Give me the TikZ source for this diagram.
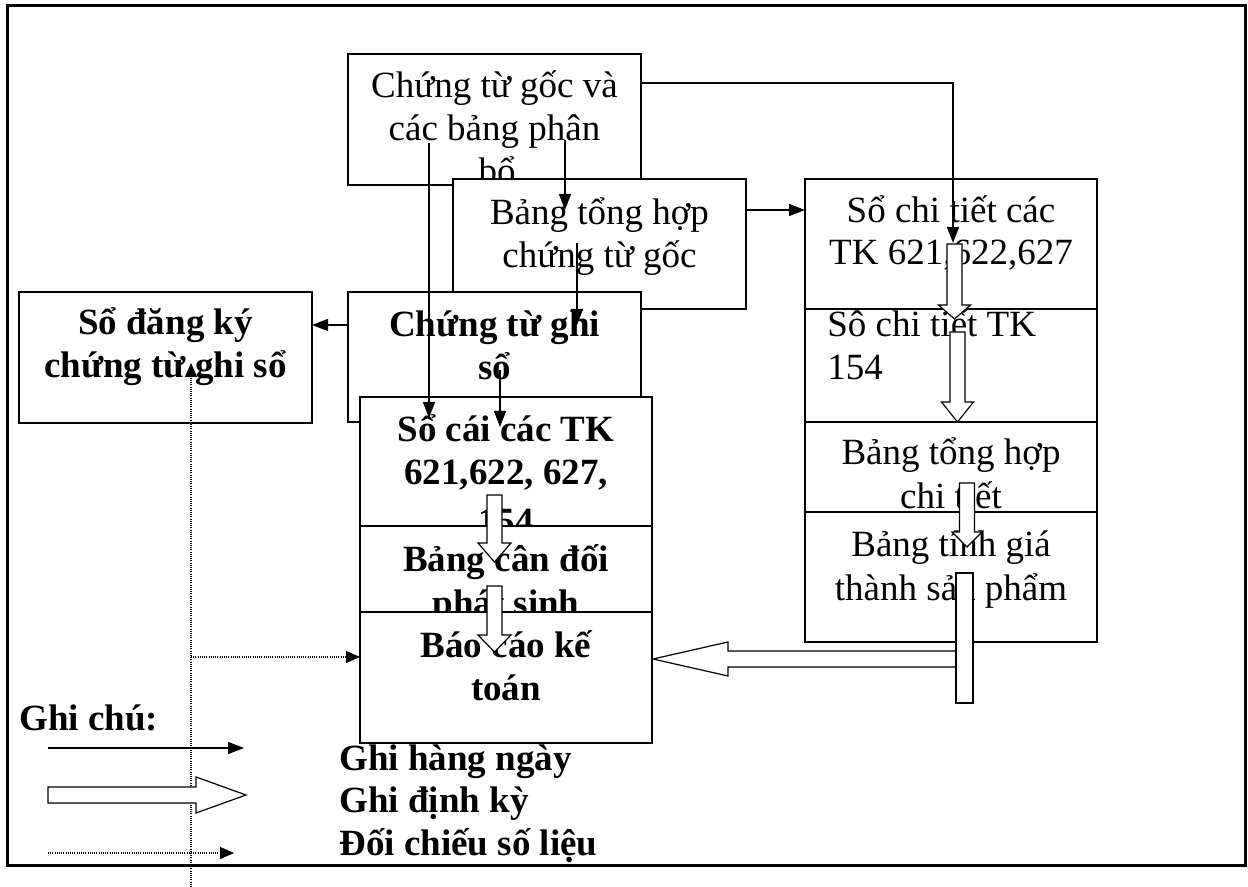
\documentclass[tikz,border=0pt]{standalone}
\usepackage{fontspec}
\setmainfont{Liberation Serif}
\usetikzlibrary{arrows.meta,calc}
\tikzset{
  box/.style={draw, fill=white, line width=0.65pt, inner sep=0pt, outer sep=0pt, anchor=north west},
  txt/.style={font=\fontsize{18.5}{21.5}\selectfont, inner sep=0pt, anchor=base},
  btxt/.style={font=\fontsize{18.5}{21.5}\selectfont\bfseries, inner sep=0pt, anchor=base},
  flow/.style={line width=0.7pt, -{Triangle[length=8pt,width=6pt]}},
  dotflow/.style={line width=0.6pt, dash pattern=on 0.5pt off 0.6pt, -{Triangle[length=7pt,width=6pt]}},
  hollow/.style={draw, fill=white, line width=0.6pt, line join=miter},
}
\newcommand\blockdown[6]{\draw[hollow] (#1-#2,#4) -- (#1+#2,#4) -- (#1+#2,#5) -- (#1+#3,#5) -- (#1,#6) -- (#1-#3,#5) -- (#1-#2,#5) -- cycle;}
\begin{document}
\begin{tikzpicture}[x=0.5pt,y=-0.5pt]
\useasboundingbox (0,0) rectangle (1248,887);
% outer frame
\draw[line width=1.5pt] (7,6) rectangle (1245,865);

% left column boxes
\node[box, minimum width=146.5pt, minimum height=65.5pt] (G) at (19,292) {};
\node[btxt] (g1) at (165.5,335) {Sổ đăng ký};
\node[btxt] (g2) at (165.5,378) {chứng từ ghi sổ};

\node[box, minimum width=146.5pt, minimum height=65.5pt] (A) at (348,54) {};
\node[txt] (a1) at (494.5,98) {Chứng từ gốc và};
\node[txt] (a2) at (494.5,141) {các bảng phân};
\node[txt] (a3) at (497,184) {bổ};

\node[box, minimum width=146.5pt, minimum height=65pt] (B) at (453,179) {};
\node[txt] (b1) at (599.5,225) {Bảng tổng hợp};
\node[txt] (b2) at (599.5,268) {chứng từ gốc};

\node[box, minimum width=146.5pt, minimum height=65pt] (C) at (348,292) {};
\node[btxt] (c1) at (494.5,337) {Chứng từ ghi};
\node[btxt] (c2) at (494.5,380) {sổ};

\node[box, minimum width=146pt, minimum height=64.5pt] (D) at (360,397) {};
\node[btxt] (d1) at (506,442) {Sổ cái các TK};
\node[btxt] (d2) at (506,485) {621,622, 627,};
\node[btxt] (d3) at (506,533) {154};

\node[box, minimum width=146pt, minimum height=43pt] (E) at (360,526) {};
\node[btxt] (e1) at (506,571) {Bảng cân đối};
\node[btxt] (e2) at (506,615) {phát sinh};

\node[box, minimum width=146pt, minimum height=65.5pt] (F) at (360,612) {};
\node[btxt] (f1) at (506,657) {Báo cáo kế};
\node[btxt] (f2) at (506,700) {toán};

% right column boxes
\node[box, minimum width=146pt, minimum height=65pt] (H) at (805,179) {};
\node[txt] (h1) at (951,223) {Sổ chi tiết các};
\node[txt] (h2) at (951,265) {TK 621,622,627};

\node[box, minimum width=146pt, minimum height=56.5pt] (I) at (805,309) {};
\node[txt, anchor=base west] (i1) at (827,337) {Sô chi tiết TK};
\node[txt, anchor=base west] (i2) at (827,380) {154};

\node[box, minimum width=146pt, minimum height=45pt] (J) at (805,422) {};
\node[txt] (j1) at (951,465) {Bảng tổng hợp};
\node[txt] (j2) at (951,509) {chi tiết};

\node[box, minimum width=146pt, minimum height=65pt] (K) at (805,512) {};
\node[txt] (k1) at (951,557) {Bảng tính giá};
\node[txt] (k2) at (951,600) {thành sản phẩm};

% periodic (hollow) arrows
\blockdown{954.5}{7.5}{16}{244}{305}{319}
\blockdown{957.5}{7.5}{16}{332}{402}{422}
\blockdown{967}{7.5}{15}{483}{532}{547}
\blockdown{494.5}{7.5}{16.5}{495}{543}{562}
\blockdown{494.5}{7.5}{16.5}{586}{635}{652}
% K -> F composite arrow
\draw[hollow] (964,651) -- (728,651) -- (728,642) -- (653,659) -- (728,676) -- (728,667) -- (964,667) -- cycle;
\draw[hollow] (956,573) rectangle (973,703);

% daily (solid) arrows
\coordinate (pA1) at ($(A.north east)+(0,29)$);
\coordinate (pH1) at ($(H.north)+(2,64)$);
\draw[flow] (pA1) -| (pH1);
\coordinate (pA2) at ($(A.north west)+(81,89)$);
\coordinate (pD1) at ($(D.north west)+(69,21)$);
\draw[flow] (pA2) -- (pD1);
\coordinate (pA3) at ($(A.north west)+(217,86)$);
\coordinate (pB1) at ($(B.north west)+(112,31)$);
\draw[flow] (pA3) -- (pB1);
\coordinate (pB2) at ($(B.north west)+(124,64)$);
\coordinate (pC1) at ($(C.north west)+(229,33)$);
\draw[flow] (pB2) -- (pC1);
\coordinate (pC2) at ($(C.north west)+(152,78)$);
\coordinate (pD2) at ($(D.north west)+(140,30)$);
\draw[flow] (pC2) -- (pD2);
\draw[flow] ($(B.north east)+(0,31)$) -- ($(H.north west)+(0,31)$);
\draw[flow] ($(C.north west)+(0,33)$) -- ($(G.north east)+(0,33)$);

% cross-check (dotted) arrows
\coordinate (dv0) at (191,887);
\coordinate (dvtop) at ($(G.north west)+(172,71)$);
\coordinate (dvmid) at (191,657);
\draw[dotflow] (dv0) -- (dvtop);
\draw[dotflow] (dvmid) -- (dvmid -| F.west);

% legend
\node[btxt, anchor=base west] (leg) at (19,730) {Ghi chú:};
\coordinate (l1a) at (48,748);
\coordinate (l1b) at (244,748);
\draw[flow] (l1a) -- (l1b);
\draw[hollow] (48,787) -- (196,787) -- (196,777) -- (246,795) -- (196,813) -- (196,803) -- (48,803) -- cycle;
\coordinate (l3a) at (48,853);
\coordinate (l3b) at (234,853);
\draw[dotflow] (l3a) -- (l3b);
\node[btxt, anchor=base west] (t1) at (339,770) {Ghi hàng ngày};
\node[btxt, anchor=base west] (t2) at (339,812) {Ghi định kỳ};
\node[btxt, anchor=base west] (t3) at (339,855) {Đối chiếu số liệu};
\end{tikzpicture}
\end{document}
